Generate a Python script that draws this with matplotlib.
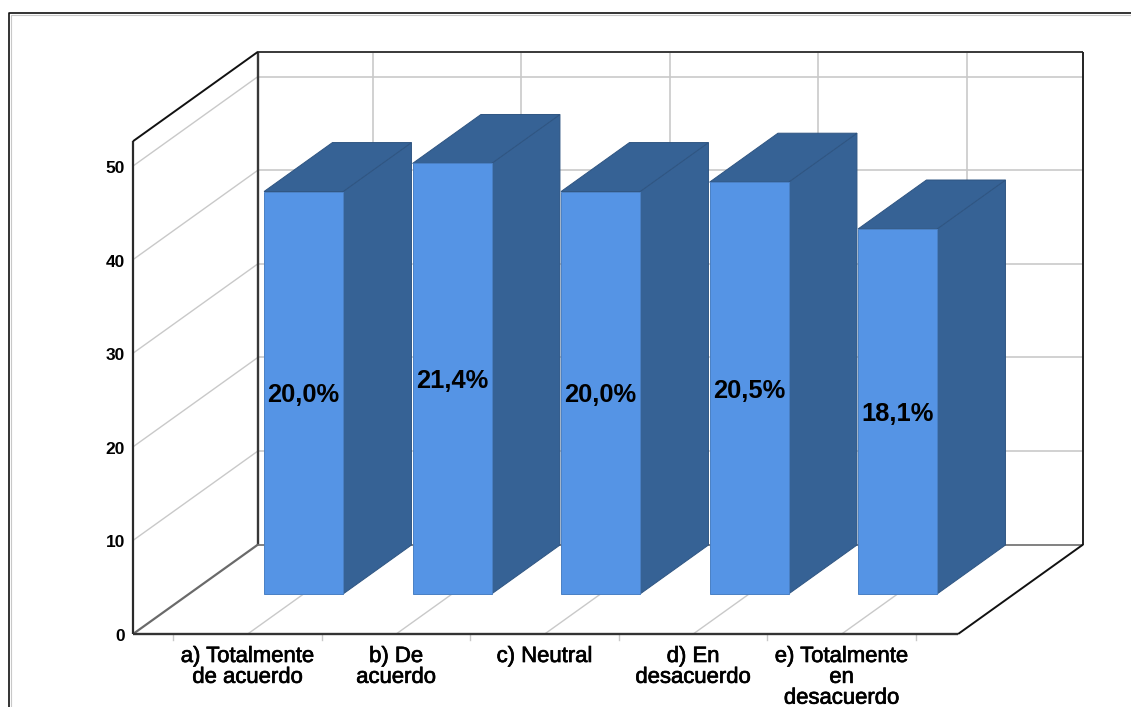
import numpy as np
from matplotlib import pyplot as plt
from matplotlib import patheffects as pe
from matplotlib.patches import Polygon

categories = ['a) Totalmente\nde acuerdo', 'b) De\nacuerdo', 'c) Neutral', 'd) En\ndesacuerdo', 'e) Totalmente\nen\ndesacuerdo']
counts = [43, 46, 43, 44, 39]
percent_labels = ['20,0%', '21,4%', '20,0%', '20,5%', '18,1%']
y_ticks = [0, 10, 20, 30, 40, 50]

# pixel layout of the oblique projection
X0, Y0 = 247.7, 634     # first category on the front floor edge
DX = 148.5              # px per category
DY = 9.36               # px per count
DEPTH_X, DEPTH_Y = 125, 89.5
XMIN, XMAX = -0.772, 4.784
YMAX = 52.65
BAR_HALF = 0.266
BAR_D0, BAR_D1 = 0.447, 0.994

FRONT = '#5594e5'
SIDE = '#366295'
GRID = '#c9c9c9'
WALL = '#383838'


def project(cat, val, depth=0.0):
    return (X0 + DX * cat + DEPTH_X * depth, Y0 - DY * val - DEPTH_Y * depth)


def line(ax, p, q, color, lw=1.0, z=1):
    ax.plot([p[0], q[0]], [p[1], q[1]], color=color, lw=lw, zorder=z, solid_capstyle='butt')


def draw_bar(ax, i, val, z):
    l, r = i - BAR_HALF, i + BAR_HALF
    face = [project(l, 0, BAR_D0), project(r, 0, BAR_D0), project(r, val, BAR_D0), project(l, val, BAR_D0)]
    side = [project(r, 0, BAR_D0), project(r, 0, BAR_D1), project(r, val, BAR_D1), project(r, val, BAR_D0)]
    top = [project(l, val, BAR_D0), project(r, val, BAR_D0), project(r, val, BAR_D1), project(l, val, BAR_D1)]
    ax.add_patch(Polygon(side, closed=True, fc=SIDE, ec='#2f5582', lw=0.7, zorder=z))
    ax.add_patch(Polygon(top, closed=True, fc=SIDE, ec='#2f5582', lw=0.7, zorder=z))
    ax.add_patch(Polygon(face, closed=True, fc=FRONT, ec='#4a80c4', lw=0.7, zorder=z + 0.1))


fig = plt.figure(figsize=(11.31, 7.07), dpi=100)
ax = fig.add_axes([0, 0, 1, 1])
ax.set_xlim(0, 1131)
ax.set_ylim(707, 0)
ax.axis('off')

# outer frame, open on the right and at the bottom
ax.plot([9, 9, 1131], [707, 13, 13], color='#111111', lw=1.2, zorder=1)
ax.plot([10.5, 10.5, 1131], [707, 14.5, 14.5], color='#c8c8c8', lw=0.8, zorder=1)

# gridlines on the walls and floor
for v in y_ticks:
    if v > 0:
        line(ax, project(XMIN, v), project(XMIN, v, 1), GRID, 1.0)
        line(ax, project(XMIN, v, 1), project(XMAX, v, 1), GRID, 1.2)
for i in range(len(categories)):
    line(ax, project(i, 0, 1), project(i, YMAX, 1), GRID, 1.2)
    line(ax, project(i, 0), project(i, 0, 1), GRID, 1.0)

# box edges
line(ax, project(XMIN, 0, 1), project(XMIN, YMAX, 1), WALL, 1.7, 2)
line(ax, project(XMIN, YMAX, 1), project(XMAX, YMAX, 1), WALL, 1.4, 2)
line(ax, project(XMAX, YMAX, 1), project(XMAX, 0, 1), '#222222', 1.4, 2)
line(ax, project(XMIN, 0, 1), project(XMAX, 0, 1), '#777777', 1.3, 2)
line(ax, project(XMIN, 0), project(XMIN, 0, 1), '#6a6a6a', 1.6, 2)
line(ax, project(XMIN, 0), project(XMIN, YMAX), '#2a2a2a', 1.6, 2)
line(ax, project(XMIN, YMAX), project(XMIN, YMAX, 1), '#111111', 1.4, 2)
line(ax, project(XMIN, 0), project(XMAX, 0), '#333333', 1.7, 2)
line(ax, project(XMAX, 0), project(XMAX, 0, 1), '#111111', 1.4, 2)

# category separators under the axis
for i in range(len(categories) + 1):
    px, py = project(i - 0.5, 0)
    ax.plot([px, px], [py, py + 6], color=GRID, lw=1.0, zorder=1)

for i, val in enumerate(counts):
    draw_bar(ax, i, val, 3 + i)
    px, py = project(i, val / 2, BAR_D0)
    ax.text(px, py + 2.5, percent_labels[i], ha='center', va='center', fontsize=18.4,
            fontweight='bold', family='Liberation Sans', color='black', zorder=20)

for v in y_ticks:
    px, py = project(XMIN, v)
    ax.text(px - 8, py + 2.5, str(v), ha='right', va='center', fontsize=12.5,
            fontweight='bold', family='Liberation Sans', color='black')

for i, label in enumerate(categories):
    px, py = project(i, 0)
    t = ax.text(px, py + 12, label, ha='center', va='top', fontsize=15.9, linespacing=0.99,
                family='Liberation Sans', color='black')
    # the reference labels are slightly heavier than regular
    t.set_path_effects([pe.withStroke(linewidth=0.5, foreground='black')])

fig.savefig('out.png', dpi=100)
